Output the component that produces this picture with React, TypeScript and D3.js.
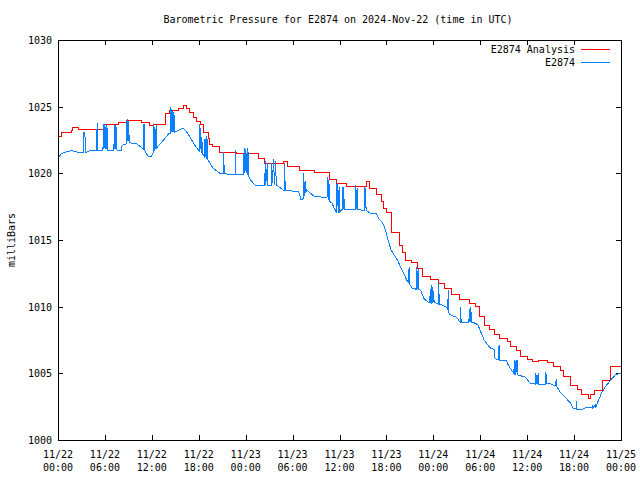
import React from "react";
import * as d3 from "d3";

const TITLE = "Barometric Pressure for E2874 on 2024-Nov-22 (time in UTC)";
const Y_LABEL = "milliBars";
const Y_TICKS = [1000, 1005, 1010, 1015, 1020, 1025, 1030];
const X_TICK_HOURS = [0, 6, 12, 18, 24, 30, 36, 42, 48, 54, 60, 66, 72];
const X_TICK_DATES = ["11/22", "11/22", "11/22", "11/22", "11/23", "11/23", "11/23", "11/23", "11/24", "11/24", "11/24", "11/24", "11/25"];
const X_TICK_TIMES = ["00:00", "06:00", "12:00", "18:00", "00:00", "06:00", "12:00", "18:00", "00:00", "06:00", "12:00", "18:00", "00:00"];
const SERIES_NAMES = ["E2874 Analysis", "E2874"];
const SERIES_COLORS = ["#ff0000", "#0a80ff"];

// hours since 2024-11-22 00:00 UTC, pressure (mb); step series
const analysis: [number, number][] = [
  [0.0, 1022.75], [0.4, 1023.05], [1.7, 1023.2], [1.9, 1023.45], [2.6, 1023.3],
  [5.8, 1023.7], [7.7, 1023.8], [8.8, 1023.95], [10.7, 1023.8], [11.7, 1023.6],
  [12.2, 1023.7], [13.7, 1024.5], [14.3, 1024.75], [15.4, 1024.9], [16.0, 1025.1],
  [16.4, 1024.9], [16.85, 1024.6], [17.3, 1024.2], [17.7, 1023.9], [18.2, 1023.7],
  [18.6, 1023.1], [19.2, 1022.6], [19.4, 1022.2], [19.7, 1022.0], [20.7, 1021.6],
  [22.8, 1021.5], [25.6, 1021.1], [26.4, 1020.75], [28.8, 1020.9], [29.4, 1020.5],
  [30.9, 1020.2], [32.8, 1020.05], [34.7, 1019.55], [35.6, 1019.25], [36.9, 1019.0],
  [39.4, 1019.4], [39.8, 1018.9], [40.7, 1018.45], [41.4, 1017.9], [41.6, 1017.4],
  [42.0, 1017.1], [42.6, 1015.6], [43.7, 1014.6], [44.1, 1014.1], [44.5, 1013.45],
  [45.2, 1013.3], [46.0, 1012.9], [46.6, 1012.3], [47.7, 1012.05], [48.6, 1011.75],
  [49.4, 1011.4], [50.3, 1010.95], [51.3, 1010.55], [52.6, 1010.25], [53.4, 1010.0],
  [53.9, 1009.3], [54.5, 1008.6], [55.2, 1008.3], [55.8, 1007.9], [56.4, 1007.6],
  [57.5, 1007.4], [57.9, 1007.05], [58.6, 1006.7], [59.2, 1006.3], [60.0, 1006.05],
  [60.7, 1005.9], [61.5, 1006.0], [62.6, 1005.8], [63.4, 1005.55], [64.3, 1005.25],
  [64.7, 1004.8], [65.6, 1004.1], [66.4, 1003.8], [66.9, 1003.4], [67.9, 1003.1],
  [68.1, 1003.4], [68.6, 1003.75], [69.6, 1004.5], [70.7, 1005.5], [72.0, 1005.5],
];

// station observations (with spikes)
const station: [number, number][] = [
  [0.0, 1021.1], [0.45, 1021.5], [1.0, 1021.6], [1.75, 1021.7], [2.8, 1021.55],
  [3.28, 1021.55], [3.3, 1023.1], [3.45, 1023.1], [3.47, 1021.55],
  [4.1, 1021.7],
  [4.95, 1021.7], [5.0, 1023.75], [5.05, 1021.7],
  [5.75, 1021.7], [5.8, 1023.7], [5.85, 1021.8], [5.9, 1023.5], [5.95, 1021.9], [6.0, 1023.7], [6.05, 1021.8], [6.15, 1023.6], [6.2, 1021.8], [6.3, 1023.4], [6.35, 1021.7],
  [7.15, 1021.7], [7.2, 1023.6], [7.25, 1021.8], [7.35, 1023.6], [7.4, 1021.8], [7.5, 1023.5], [7.55, 1021.7],
  [8.1, 1021.7], [8.2, 1022.1],
  [8.75, 1022.2], [8.8, 1023.9], [8.85, 1022.4], [8.95, 1024.1], [9.0, 1022.4], [9.05, 1023.8], [9.1, 1022.3],
  [10.1, 1022.2],
  [10.95, 1021.8], [11.0, 1023.7], [11.05, 1021.75],
  [11.5, 1021.3], [11.9, 1021.25],
  [12.2, 1021.6], [12.25, 1023.6], [12.3, 1021.7], [12.4, 1023.5], [12.45, 1021.8], [12.55, 1023.6], [12.6, 1021.9],
  [13.5, 1022.5], [14.2, 1023.0],
  [14.4, 1023.0], [14.45, 1025.0], [14.5, 1023.1], [14.6, 1024.7], [14.65, 1023.1], [14.75, 1024.6], [14.8, 1023.1], [14.85, 1024.4], [14.9, 1023.1],
  [16.0, 1023.4], [16.6, 1023.0], [17.6, 1022.0],
  [18.05, 1021.7], [18.1, 1023.7], [18.15, 1021.6], [18.25, 1023.4], [18.3, 1021.5], [18.4, 1022.75], [18.45, 1021.5],
  [18.75, 1021.2], [18.8, 1022.6], [18.85, 1021.2], [18.95, 1022.8], [19.0, 1021.1], [19.1, 1022.6], [19.15, 1021.0],
  [19.3, 1020.9], [19.8, 1020.4], [20.7, 1020.0],
  [21.15, 1020.0], [21.2, 1021.6], [21.25, 1020.0],
  [22.0, 1019.9],
  [22.65, 1019.9], [22.7, 1021.75], [22.75, 1019.9],
  [23.75, 1019.9], [23.8, 1021.9], [23.85, 1020.0], [24.0, 1021.85], [24.05, 1020.0], [24.2, 1021.9], [24.25, 1019.9], [24.35, 1021.6], [24.4, 1019.8],
  [24.5, 1019.6], [25.2, 1019.1],
  [26.45, 1019.1], [26.5, 1020.9], [26.55, 1019.1], [26.8, 1020.75], [26.85, 1019.1],
  [27.25, 1019.1], [27.3, 1020.8], [27.35, 1019.1], [27.6, 1021.1], [27.65, 1019.1], [27.85, 1020.9], [27.9, 1019.1],
  [28.0, 1019.1], [28.8, 1018.75],
  [28.95, 1018.75], [29.0, 1020.75], [29.05, 1018.75],
  [30.8, 1018.6], [31.1, 1018.0],
  [31.35, 1018.1], [31.4, 1020.0], [31.45, 1018.2], [31.6, 1019.4], [31.65, 1018.5],
  [31.8, 1018.75], [32.8, 1018.25], [34.4, 1018.2],
  [34.5, 1019.75], [34.55, 1018.0], [34.65, 1019.5], [34.7, 1017.9],
  [35.0, 1017.8],
  [35.55, 1017.1], [35.6, 1019.2], [35.65, 1017.0], [35.8, 1019.3], [35.85, 1017.0], [35.95, 1019.0], [36.0, 1017.1],
  [36.35, 1017.3], [36.4, 1019.0], [36.45, 1017.3], [36.55, 1019.0], [36.6, 1017.3],
  [38.05, 1017.3], [38.1, 1019.1], [38.15, 1017.3], [38.25, 1018.9], [38.3, 1017.3],
  [39.15, 1017.2], [39.2, 1019.0], [39.25, 1017.2], [39.35, 1018.9], [39.4, 1017.2],
  [40.0, 1017.0], [40.7, 1017.0], [41.0, 1016.6], [41.5, 1016.3], [41.8, 1015.9],
  [42.2, 1015.0], [42.6, 1014.25], [43.4, 1013.5], [44.0, 1012.75], [44.6, 1012.0],
  [44.85, 1011.8], [44.9, 1013.0], [44.95, 1011.7],
  [45.3, 1011.4],
  [45.85, 1011.3], [45.9, 1013.0], [45.95, 1011.3], [46.05, 1012.8], [46.1, 1011.3],
  [46.4, 1011.2], [46.8, 1010.6], [47.4, 1010.3],
  [47.55, 1010.3], [47.6, 1011.3], [47.65, 1010.3], [47.75, 1011.6], [47.8, 1010.2], [47.9, 1011.5], [47.95, 1010.3], [48.05, 1011.2], [48.1, 1010.3],
  [48.5, 1010.25],
  [48.65, 1010.2], [48.7, 1011.75], [48.75, 1010.2],
  [49.6, 1010.0],
  [49.85, 1009.8], [49.9, 1011.25], [49.95, 1009.6],
  [50.1, 1009.4], [51.0, 1009.2], [51.4, 1008.85],
  [51.45, 1008.85], [51.5, 1010.0], [51.55, 1008.85],
  [52.55, 1008.85], [52.6, 1009.8], [52.65, 1008.85], [52.75, 1010.0], [52.8, 1008.85], [52.85, 1009.6], [52.9, 1008.85],
  [53.0, 1008.85], [53.7, 1008.65], [54.0, 1008.2], [54.5, 1007.5], [55.0, 1007.1],
  [55.3, 1006.9], [55.8, 1006.8], [55.9, 1006.1],
  [56.35, 1006.0], [56.4, 1007.1], [56.45, 1006.0],
  [57.3, 1006.0], [57.6, 1005.6], [58.0, 1005.25],
  [58.3, 1005.0], [58.35, 1006.0], [58.4, 1004.9], [58.5, 1005.9], [58.55, 1004.9], [58.7, 1006.0], [58.75, 1004.9],
  [59.8, 1004.7], [60.4, 1004.25],
  [61.05, 1004.2], [61.1, 1005.0], [61.15, 1004.2], [61.25, 1004.9], [61.3, 1004.2], [61.4, 1005.0], [61.45, 1004.2],
  [61.9, 1004.2],
  [62.35, 1004.2], [62.4, 1005.1], [62.45, 1004.2],
  [62.8, 1004.25],
  [63.65, 1004.05], [63.7, 1004.55], [63.75, 1004.0],
  [63.8, 1004.0], [64.2, 1003.6], [64.7, 1003.3], [65.5, 1002.8], [65.9, 1002.35],
  [66.25, 1002.35], [66.3, 1002.9], [66.35, 1002.3],
  [67.0, 1002.3], [67.6, 1002.45],
  [68.3, 1002.4], [68.35, 1002.6], [68.4, 1002.4], [68.7, 1002.6], [68.75, 1002.4],
  [69.0, 1002.8], [69.5, 1003.5], [70.0, 1004.0], [70.7, 1004.5], [71.3, 1004.9], [72.0, 1005.0],
];

const W = 640;
const H = 480;
const M = { left: 58, right: 621, top: 40, bottom: 440 };
const FONT = "'DejaVu Sans Mono', 'Liberation Mono', monospace";

export default function App() {
  const x = d3.scaleLinear().domain([0, 72]).range([M.left, M.right]);
  const y = d3.scaleLinear().domain([1000, 1030]).range([M.bottom, M.top]);

  const redLine = d3
    .line<[number, number]>()
    .x((d) => x(d[0]))
    .y((d) => y(d[1]))
    .curve(d3.curveStepAfter)(analysis) || "";
  const blueLine = d3
    .line<[number, number]>()
    .x((d) => x(d[0]))
    .y((d) => y(d[1]))(station) || "";

  const tickLen = 5;

  return (
    <svg
      width={W}
      height={H}
      style={{ position: "absolute", left: 0, top: 0, background: "#fff" }}
      fontFamily={FONT}
      fontSize={10}
    >
      <rect x={0} y={0} width={W} height={H} fill="#fff" />
      <text x={338} y={23} textAnchor="middle" fill="#000">
        {TITLE}
      </text>

      {/* y ticks */}
      {Y_TICKS.map((v) => (
        <g key={"y" + v} shapeRendering="crispEdges">
          <line x1={M.left} x2={M.left + tickLen} y1={Math.round(y(v)) + 0.5} y2={Math.round(y(v)) + 0.5} stroke="#000" />
          <line x1={M.right - tickLen} x2={M.right} y1={Math.round(y(v)) + 0.5} y2={Math.round(y(v)) + 0.5} stroke="#000" />
          <text x={M.left - 6} y={y(v) + 4} textAnchor="end" fill="#000">
            {v}
          </text>
        </g>
      ))}

      {/* x ticks */}
      {X_TICK_HOURS.map((h, i) => (
        <g key={"x" + h} shapeRendering="crispEdges">
          <line x1={Math.round(x(h)) + 0.5} x2={Math.round(x(h)) + 0.5} y1={M.bottom} y2={M.bottom - tickLen} stroke="#000" />
          <line x1={Math.round(x(h)) + 0.5} x2={Math.round(x(h)) + 0.5} y1={M.top} y2={M.top + tickLen} stroke="#000" />
          <text x={x(h)} y={458} textAnchor="middle" fill="#000">
            {X_TICK_DATES[i]}
          </text>
          <text x={x(h)} y={471} textAnchor="middle" fill="#000">
            {X_TICK_TIMES[i]}
          </text>
        </g>
      ))}

      <text
        transform={`translate(15, ${(M.top + M.bottom) / 2}) rotate(-90)`}
        textAnchor="middle"
        fill="#000"
      >
        {Y_LABEL}
      </text>

      <path d={redLine} fill="none" stroke={SERIES_COLORS[0]} strokeWidth={1} shapeRendering="crispEdges" />
      <path d={blueLine} fill="none" stroke={SERIES_COLORS[1]} strokeWidth={1} shapeRendering="crispEdges" />

      {/* frame */}
      <rect
        x={M.left + 0.5}
        y={M.top + 0.5}
        width={M.right - M.left}
        height={M.bottom - M.top}
        fill="none"
        stroke="#000"
        shapeRendering="crispEdges"
      />

      {/* legend */}
      {SERIES_NAMES.map((name, i) => (
        <g key={name}>
          <text x={575} y={53 + i * 13} textAnchor="end" fill="#000">
            {name}
          </text>
          <line
            x1={581}
            x2={610}
            y1={49.5 + i * 13}
            y2={49.5 + i * 13}
            stroke={SERIES_COLORS[i]}
            shapeRendering="crispEdges"
          />
        </g>
      ))}
    </svg>
  );
}
